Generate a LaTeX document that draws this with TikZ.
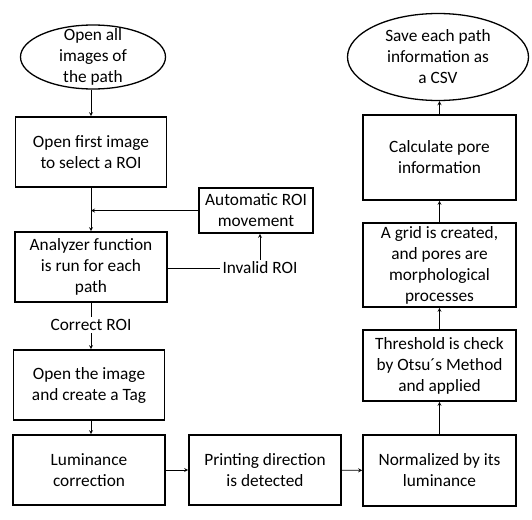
\documentclass[tikz,border=0pt]{standalone}
\usepackage{fontspec}
\setmainfont{Carlito}
\usetikzlibrary{shapes.geometric}
\newcommand{\fc}{\fontsize{17.3}{21}\selectfont}
\tikzset{b/.style = {draw, line width=1.6pt, align=center, inner sep=0pt, font=\fc},
    e/.style = {ellipse, draw, line width=1.3pt, align=center, inner xsep=0pt, inner ysep=-8pt, font=\fc},
    t/.style = {inner sep=2pt, font=\fc}}

\begin{document}
\begin{tikzpicture}[x=1pt, y=-1pt, >=stealth, line width=0.8pt]
    \useasboundingbox (0,0) rectangle (532,519);
    % left column
    \node[e, minimum width=145pt, minimum height=64pt] (start) at (93,57) {Open all\\images of\\the path};
    \node[b, minimum width=151pt, minimum height=70pt] (first) at (91,152) {Open first image\\to select a ROI};
    \node[b, minimum width=152pt, minimum height=70pt] (anl) at (91,267) {Analyzer function\\is run for each\\path};
    \node[b, minimum width=114pt, minimum height=45pt] (auto) at (256,210.5) {Automatic ROI\\movement};
    \node[t] (inv) at (260,268) {Invalid ROI};
    \node[t] (ok) at (91,325) {Correct ROI};
    \node[b, minimum width=151pt, minimum height=70pt] (tag) at (89,385) {Open the image\\and create a Tag};
    % bottom row
    \node[b, minimum width=152pt, minimum height=70pt] (lum) at (89,470) {Luminance\\correction};
    \node[b, minimum width=152pt, minimum height=70pt] (dir) at (265,470) {Printing direction\\is detected};
    \node[b, minimum width=153pt, minimum height=71pt] (norm) at (439.5,470.5) {Normalized by its\\luminance};
    % right column
    \node[b, minimum width=153pt, minimum height=71pt] (otsu) at (439.5,365.5) {Threshold is check\\by Otsu´s Method\\and applied};
    \node[b, minimum width=153pt, minimum height=84pt] (grid) at (439.5,265) {A grid is created,\\and pores are\\morphological\\processes};
    \node[b, minimum width=153pt, minimum height=85pt] (pore) at (439.5,157.5) {Calculate pore\\information};
    \node[e, minimum width=181pt, minimum height=87pt] (save) at (438,57) {Save each path\\information as\\a CSV};

    \draw[->] (start.south -| first) -- (first.north);
    \draw[->] (first) -- (anl);
    \draw[->] (auto.west) -- (auto.west -| first);
    \draw (anl.east |- inv) -- (inv.west);
    \draw[->] (inv.north) -- (inv |- auto.south);
    \draw (anl.south) -- (ok.north);
    \draw[->] (ok.south -| first) -- (first |- tag.north);
    \draw[->] (tag.south -| first) -- (first |- lum.north);
    \draw[->] (lum) -- (dir);
    \draw[->] (dir) -- (norm);
    \draw[->] (norm) -- (otsu);
    \draw[->] (otsu) -- (grid);
    \draw[->] (grid) -- (pore);
    \draw[->] (pore) -- (pore |- save.south);
\end{tikzpicture}
\end{document}
